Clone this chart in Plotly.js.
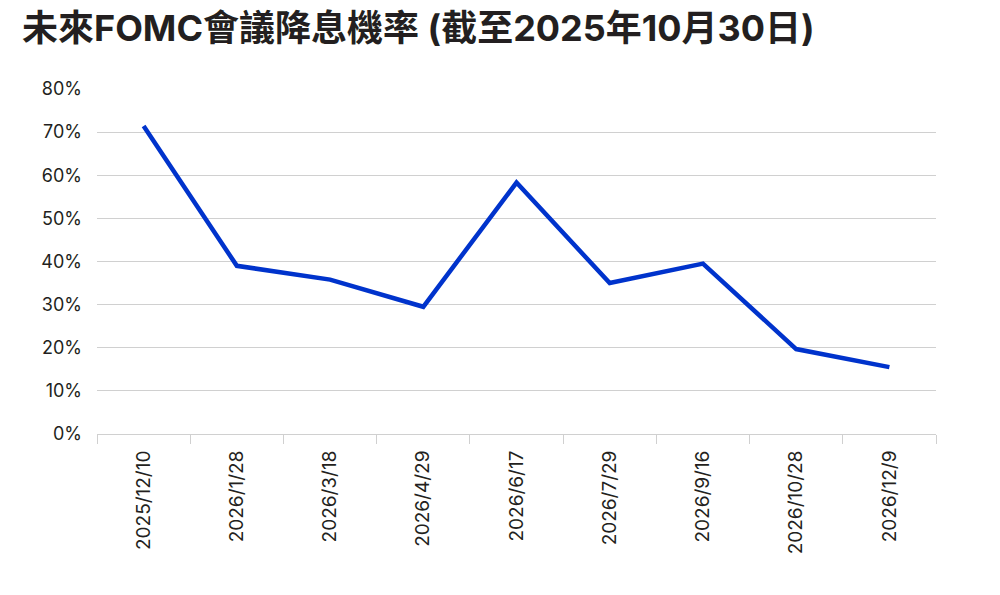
<!DOCTYPE html>
<html>
<head>
<meta charset="utf-8">
<script src="https://cdn.plot.ly/plotly-3.0.1.min.js"></script>
<style>
  html, body { margin: 0; padding: 0; background: #fff; }
  #chart { width: 1000px; height: 595px; }
</style>
</head>
<body>
<div id="chart"></div>
<script>
// FOMC meeting dates and rate-cut probability (%)
const meetings = ["2025/12/10", "2026/1/28", "2026/3/18", "2026/4/29", "2026/6/17",
                  "2026/7/29", "2026/9/16", "2026/10/28", "2026/12/9"];
const cutProb = [71.4, 39.0, 35.8, 29.5, 58.3, 35.0, 39.5, 19.7, 15.5];
const yTicks = [0, 10, 20, 30, 40, 50, 60, 70, 80];

const FONT = "Inter, 'Noto Sans CJK TC', sans-serif";

const traces = [{
  type: "scatter", mode: "lines",
  x: meetings, y: cutProb,
  line: { color: "#0033cc", width: 4.5 },
  hoverinfo: "x+y"
}];

const layout = {
  width: 1000, height: 595,
  paper_bgcolor: "white", plot_bgcolor: "white",
  showlegend: false,
  margin: { l: 97, r: 64, t: 89, b: 161 },
  title: {
    text: "<b>未來FOMC會議降息機率 (截至2025年10月30日)</b>",
    x: 0.022, xanchor: "left", y: 0.952, yanchor: "middle",
    font: { family: FONT, size: 36, color: "#231f20" }
  },
  xaxis: {
    type: "category",
    range: [-0.5, meetings.length - 0.5],
    tickson: "boundaries",
    ticks: "outside", ticklen: 9, tickwidth: 1, tickcolor: "#d0d0d0",
    showline: true, linecolor: "#d0d0d0", linewidth: 1,
    showgrid: false, zeroline: false,
    tickangle: -90,
    ticklabelstandoff: 8,
    tickfont: { family: FONT, size: 19, color: "#231f20" }
  },
  yaxis: {
    range: [0, 80],
    tickvals: yTicks,
    ticktext: yTicks.map(v => v + "%"),
    showgrid: true, gridcolor: "#d0d0d0", gridwidth: 1,
    zeroline: false, showline: false, ticks: "",
    ticklabelstandoff: 14,
    tickfont: { family: FONT, size: 18, color: "#231f20" }
  }
};

Plotly.newPlot("chart", traces, layout, { displayModeBar: false, staticPlot: true });
</script>
</body>
</html>
